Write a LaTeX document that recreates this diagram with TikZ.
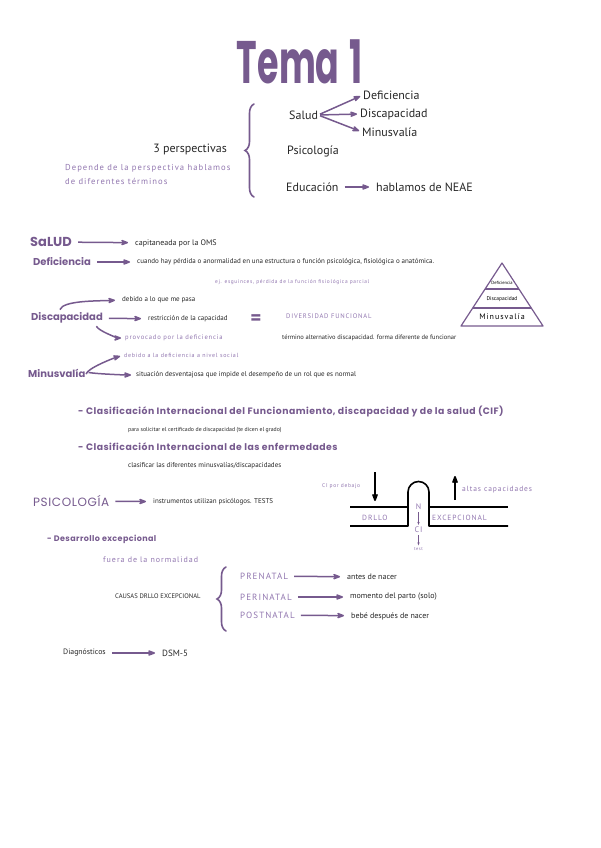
\documentclass[tikz,border=0pt]{standalone}
\usepackage{fontspec}
\setmainfont{PT Sans}
\newfontfamily\headfont{Poppins}[LetterSpace=5]
\newfontfamily\titlefont{Poppins}
\newfontfamily\notefont{PT Sans}[LetterSpace=12]
\usetikzlibrary{arrows.meta,positioning,decorations.pathreplacing}
\definecolor{tema}{RGB}{118,90,142}
\definecolor{tenue}{RGB}{145,118,175}
\newcommand{\fs}[1]{\fontsize{#1}{#1}\selectfont}

\begin{document}
\begin{tikzpicture}[x=1pt, y=-1pt, >={Stealth[round]},
  txt/.style={inner sep=0pt, anchor=west, font=\fs{7}, text=black!85},
  mid/.style={txt, font=\fs{12}},
  note/.style={txt, font=\notefont\fs{7}, text=tenue},
  hd/.style={txt, font=\headfont\bfseries\fs{9.3}, text=tema},
  big/.style={txt, font=\titlefont\bfseries\fs{10}, text=tema},
  arr/.style={->, draw=tema, line width=1.5pt, shorten <=6pt, shorten >=7pt},
  thin/.style={->, draw=tema, line width=0.9pt, shorten <=2pt, shorten >=2pt, >={Stealth[length=3pt]}},
  lazo/.style={draw=tema, line width=1.6pt, line cap=round, decorate, decoration={brace, amplitude=9pt}},
  muro/.style={line width=1.6pt, line join=round}]
\useasboundingbox (0,0) rectangle (600,848);

% titulo
\node[text=tema, font=\titlefont\bfseries\fs{60}] (tema) at (300,62) {\scalebox{0.58}[1]{Tema\hspace{0.3em}1}};

% 3 perspectivas
\node[mid, anchor=east] (persp) at (227,149) {3 perspectivas};
\node[note, font=\notefont\fontsize{8.6}{14}\selectfont, align=left] (depende) at (65,175) {Depende de la perspectiva hablamos\\de diferentes términos};
\draw[lazo] (254,197) -- (254,104);
\node[mid] (salud) at (289,115) {Salud};
\node[mid] (defi) at (363,95) {Deficiencia};
\node[mid] (disca) at (360,114) {Discapacidad};
\node[mid] (minus) at (362,132) {Minusvalía};
\node[mid] (psico) at (287,151) {Psicología};
\node[mid] (educ) at (286,187) {Educación};
\node[mid] (neae) at (376,187) {hablamos de NEAE};
\draw[arr, shorten <=2pt, shorten >=3pt] (salud.east) -- (defi.west);
\draw[arr, shorten <=2pt, shorten >=3pt] (salud.east) -- (disca.west);
\draw[arr, shorten <=2pt, shorten >=3pt] (salud.east) -- (minus.west);
\draw[arr] (educ) -- (neae);

% salud y deficiencia
\node[big, font=\titlefont\bfseries\fs{13}] (salud2) at (30,242) {SaLUD};
\node[txt, font=\fs{8}] (oms) at (135,243) {capitaneada por la OMS};
\node[big] (defic) at (33,262) {Deficiencia};
\node[txt] (cuando) at (137,262) {cuando hay pérdida o anormalidad en una estructura o función psicológica, fisiológica o anatómica.};
\node[note, font=\notefont\fs{5.4}] (esguince) at (215,282) {ej. esguinces, pérdida de la función fisiológica parcial};
\draw[arr] (salud2) -- (oms);
\draw[arr] (defic) -- (cuando);

% piramide
\draw[tema, muro, line width=1.2pt] (502,263) -- (543,326) -- (461,326) -- cycle;
\draw[tema, line width=1.2pt] (485,289) -- (519,289) (473,308) -- (531,308);
\node[inner sep=0pt, font=\fs{4.5}] (pdefi) at (502,283) {Deficiencia};
\node[inner sep=0pt, font=\fs{5.5}] (pdisca) at (502,299) {Discapacidad};
\node[inner sep=0pt, font=\notefont\fs{8}] (pminus) at (502,317) {Minusvalía};

% discapacidad
\node[big] (discap) at (31,318) {Discapacidad};
\node[txt] (pasa) at (122,300) {debido a lo que me pasa};
\node[txt] (restr) at (148,319) {restricción de la capacidad};
\node[inner sep=0pt, text=tema, font=\titlefont\bfseries\fs{16}] (igual) at (256,319) {=};
\node[note, font=\notefont\fs{6.6}] (diver) at (286,316) {DIVERSIDAD FUNCIONAL};
\node[note, font=\notefont\fs{6.6}] (provoc) at (125,338) {provocado por la deficiencia};
\node[txt, font=\fs{6.5}] (termino) at (282,338) {término alternativo discapacidad. forma diferente de funcionar};
\draw[arr, shorten <=3pt] ([xshift=-8pt]discap.north) .. controls +(4,-12) and +(-25,1) .. (pasa.west);
\draw[arr] (discap) -- (restr);
\draw[arr, shorten <=3pt, shorten >=4pt] ([xshift=-8pt]discap.south east) .. controls +(4,8) and +(-6,0) .. (provoc.west);

% minusvalia
\node[note, font=\notefont\fs{6}] (social) at (124,355) {debido a la deficiencia a nivel social};
\node[big] (minus2) at (28,373) {Minusvalía};
\node[txt] (situac) at (136,375) {situación desventajosa que impide el desempeño de un rol que es normal};
\draw[arr, shorten <=2pt, shorten >=4pt] ([yshift=-3pt]minus2.east) .. controls +(2,-8) and +(-10,3) .. (social.west);
\draw[arr, shorten <=3pt, shorten >=5pt] ([yshift=1pt]minus2.east) .. controls +(12,2) and +(-10,0) .. (situac.west);

% clasificaciones
\node[hd] (cif) at (78,411) {- Clasificación Internacional del Funcionamiento, discapacidad y de la salud (CIF)};
\node[txt, font=\fs{5.8}] (certif) at (128,430) {para solicitar el certificado de discapacidad (te dicen el grado)};
\node[hd] (cie) at (78,447) {- Clasificación Internacional de las enfermedades};
\node[txt] (clasif) at (128,466) {clasificar las diferentes minusvalías/discapacidades};

% psicologia
\node[big, font=\headfont\fs{12}] (psicologia) at (33,501) {PSICOLOGÍA};
\node[txt] (tests) at (153,502) {instrumentos utilizan psicólogos. TESTS};
\draw[arr] (psicologia) -- (tests);

% esquema del desarrollo
\draw[muro] (350,507) -- (408,507) (429,507) -- (508,507);
\draw[muro] (350,526) -- (408,526) -- (408,492) arc[start angle=180, end angle=360, radius=10.5] -- (429,526) -- (508,526);
\node[note, font=\notefont\fs{7.5}] (drllo) at (362,518) {DRLLO};
\node[note, font=\notefont\fs{7.5}] (excep) at (432,518) {EXCEPCIONAL};
\node[note, anchor=center, font=\notefont\fs{8}] (nn) at (418.5,507) {N};
\node[note, anchor=center, font=\notefont\fs{8}] (ci) at (418.5,530) {CI};
\node[note, anchor=center, font=\notefont\fs{4.5}] (test) at (418.5,549) {test};
\draw[thin] (nn) -- (ci);
\draw[thin] (ci) -- (test);
\node[note, font=\notefont\fs{5.5}] (debajo) at (322,486) {CI por debajo};
\coordinate (bajoA) at (375,472);
\coordinate (bajoB) at (375,501);
\draw[->, line width=1.6pt] (bajoA) -- (bajoB);
\coordinate (altaA) at (455,500);
\coordinate (altaB) at (455,476);
\draw[->, line width=1.6pt] (altaA) -- (altaB);
\node[note, font=\notefont\fs{7.5}] (altas) at (462,490) {altas capacidades};

% desarrollo excepcional
\node[hd, font=\headfont\bfseries\fs{8}] (desarr) at (47,539) {- Desarrollo excepcional};
\node[note, font=\notefont\fs{8}] (fuera) at (103,560) {fuera de la normalidad};
\draw[lazo] (226,631) -- (226,567);
\node[txt, font=\fs{6.6}] (causas) at (115,596) {CAUSAS DRLLO EXCEPCIONAL};
\node[note, font=\notefont\fs{9}] (pre) at (240,576) {PRENATAL};
\node[note, font=\notefont\fs{9}] (peri) at (240,597) {PERINATAL};
\node[note, font=\notefont\fs{9}] (post) at (240,615) {POSTNATAL};
\node[txt, font=\fs{8}] (antes) at (347,577) {antes de nacer};
\node[txt, font=\fs{8}] (momento) at (350,597) {momento del parto (solo)};
\node[txt, font=\fs{8}] (bebe) at (351,616) {bebé después de nacer};
\draw[arr] (pre) -- (antes);
\draw[arr] (peri) -- (momento);
\draw[arr] (post) -- (bebe);

% diagnosticos
\node[txt, font=\fs{7.8}] (diag) at (63,653) {Diagnósticos};
\node[txt, font=\fs{9}] (dsm) at (162,653) {DSM-5};
\draw[arr] (diag) -- (dsm);
\end{tikzpicture}
\end{document}
